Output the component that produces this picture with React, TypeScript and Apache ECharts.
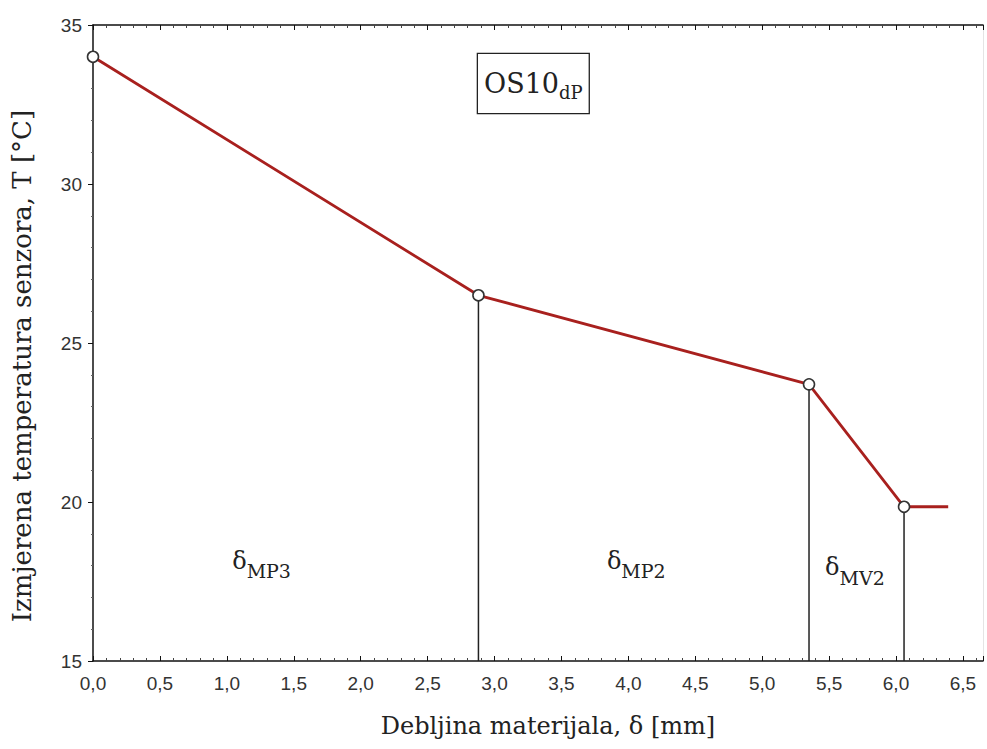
import React, { useEffect, useRef } from "react";
import * as echarts from "echarts";

// Measured points (thickness in mm, temperature in °C)
const measuredX = [0, 2.88, 5.35, 6.06];
const measuredT = [34, 26.5, 23.7, 19.85];
// Horizontal extensions of the red curve beyond the first/last point
const leftExtX = -0.21;
const rightExtX = 6.39;
// Zone separators (vertical drop lines) — at the 2nd, 3rd and 4th measured point
const dropIdx = [1, 2, 3];
// Zone labels
const zoneSubs = ["MP3", "MP2", "MV2"];
const zoneLabelX = [1.04, 3.84, 5.47];
const zoneLabelT = [18.02, 18.02, 17.83];
// Title box
const boxMain = "OS10";
const boxSub = "dP";
const boxX = 3.29;
const boxT = 33.16;

const xMin = 0;
const xMax = 6.65;
const yMin = 15;
const yMax = 35;

const SERIF = "'DejaVu Serif', 'Liberation Serif', serif";
const SANS = "'Liberation Sans', Arial, sans-serif";

export default function App() {
  const ref = useRef<HTMLDivElement>(null);
  useEffect(() => {
    if (!ref.current) return;
    const chart = echarts.init(ref.current, null, { renderer: "svg" });
    const lineData: [number, number][] = [
      [leftExtX, measuredT[0]],
      ...measuredX.map((x, i) => [x, measuredT[i]] as [number, number]),
      [rightExtX, measuredT[measuredT.length - 1]],
    ];
    const fmt = (v: number) =>
      Math.abs(v / 0.5 - Math.round(v / 0.5)) < 1e-6 ? v.toFixed(1).replace(".", ",") : "";
    const dropSeries = dropIdx.map((i) => ({
      type: "line",
      data: [
        [measuredX[i], yMin],
        [measuredX[i], measuredT[i]],
      ],
      symbol: "none",
      lineStyle: { color: "#222", width: 1.5 },
      z: 2,
      silent: true,
    }));
    const zoneRich = {
      d: { fontFamily: SERIF, fontSize: 24, color: "#222", lineHeight: 24, verticalAlign: "top" },
      s: { fontFamily: SERIF, fontSize: 19, color: "#222", lineHeight: 32, verticalAlign: "bottom" },
    };
    chart.setOption({
      animation: false,
      backgroundColor: "#fff",
      grid: { left: 93, right: 4, top: 25, bottom: 88, containLabel: false },
      xAxis: [
        {
          type: "value",
          min: xMin,
          max: xMax,
          interval: 0.5,
          position: "bottom",
          name: "Debljina materijala, δ [mm]",
          nameLocation: "middle",
          nameGap: 53,
          nameTextStyle: { fontFamily: SERIF, fontSize: 24, color: "#222", padding: [0, 0, 0, 20] },
          axisLine: { show: true, onZero: false, lineStyle: { color: "#111", width: 1.5 } },
          axisTick: { show: true, inside: true, length: 5, lineStyle: { color: "#111" } },
          minorTick: { show: true, splitNumber: 5, length: 3, lineStyle: { color: "#444" } },
          axisLabel: {
            formatter: fmt,
            fontFamily: SANS,
            fontSize: 19,
            color: "#333",
            margin: 13,
            showMaxLabel: false,
          },
          splitLine: { show: false },
        },
        {
          type: "value",
          min: xMin,
          max: xMax,
          interval: 0.5,
          position: "top",
          axisLine: { show: true, onZero: false, lineStyle: { color: "#111", width: 1.5 } },
          axisTick: { show: true, inside: true, length: 5, lineStyle: { color: "#111" } },
          minorTick: { show: true, splitNumber: 5, length: 3, lineStyle: { color: "#444" } },
          axisLabel: { show: false },
          splitLine: { show: false },
        },
      ],
      yAxis: [
        {
          type: "value",
          min: yMin,
          max: yMax,
          interval: 5,
          position: "left",
          name: "Izmjerena temperatura senzora, T [°C]",
          nameLocation: "middle",
          nameGap: 58,
          nameTextStyle: {
            fontFamily: SERIF,
            fontSize: 26,
            color: "#222",
            padding: [0, 46, 0, 0],
          },
          axisLine: { show: true, onZero: false, lineStyle: { color: "#111", width: 1.5 } },
          axisTick: { show: true, inside: false, length: 5, lineStyle: { color: "#111" } },
          minorTick: { show: true, splitNumber: 5, length: 2, lineStyle: { color: "#666" } },
          axisLabel: { fontFamily: SANS, fontSize: 19, color: "#333", margin: 11 },
          splitLine: { show: false },
        },
        {
          type: "value",
          min: yMin,
          max: yMax,
          interval: 5,
          position: "right",
          axisLine: { show: true, onZero: false, lineStyle: { color: "#e4e4e4", width: 1 } },
          axisTick: { show: false },
          axisLabel: { show: false },
          splitLine: { show: false },
        },
      ],
      series: [
        ...dropSeries,
        {
          type: "line",
          data: lineData,
          clip: false,
          symbol: "none",
          lineStyle: { color: "#a8201e", width: 2.8 },
          z: 3,
        },
        {
          type: "scatter",
          data: measuredX.map((x, i) => [x, measuredT[i]]),
          symbol: "circle",
          symbolSize: 11,
          clip: false,
          itemStyle: { color: "#fff", borderColor: "#333", borderWidth: 1.6, opacity: 1 },
          z: 4,
        },
        {
          type: "scatter",
          data: zoneSubs.map((s, i) => ({
            value: [zoneLabelX[i], zoneLabelT[i]],
            label: {
              show: true,
              position: "right",
              distance: 0,
              opacity: 1,
              formatter: `{d|δ}{s|${s}}`,
              rich: zoneRich,
            },
          })),
          symbolSize: 0,
          itemStyle: { opacity: 1 },
          silent: true,
          z: 5,
        },
        {
          type: "scatter",
          data: [
            {
              value: [boxX, boxT],
              label: {
                show: true,
                position: "inside",
                opacity: 1,
                formatter: `{m|${boxMain}}{s|${boxSub}}`,
                backgroundColor: "#fff",
                borderColor: "#222",
                borderWidth: 1.3,
                padding: [16, 6, 12, 6],
                rich: {
                  m: { fontFamily: SERIF, fontSize: 27, color: "#222", lineHeight: 27, verticalAlign: "top" },
                  s: { fontFamily: SERIF, fontSize: 18, color: "#222", lineHeight: 31, verticalAlign: "bottom" },
                },
              },
            },
          ],
          symbolSize: 0,
          itemStyle: { opacity: 1 },
          silent: true,
          z: 5,
        },
      ],
    });
    return () => chart.dispose();
  }, []);
  return <div ref={ref} style={{ width: 987, height: 749, position: "absolute", left: 0, top: 0 }} />;
}
